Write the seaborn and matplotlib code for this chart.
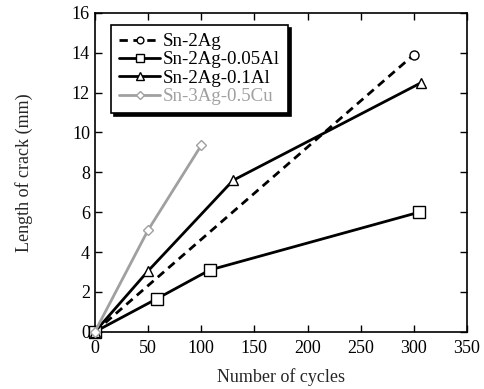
import matplotlib
matplotlib.use('agg')
import matplotlib.pyplot as plt
import seaborn as sns
import pandas as pd

# data
series_names = ['Sn-2Ag', 'Sn-2Ag-0.05Al', 'Sn-2Ag-0.1Al', 'Sn-3Ag-0.5Cu']
cycles_2ag = [0, 300]
crack_2ag = [0, 13.9]
cycles_005al = [0, 58, 108, 305]
crack_005al = [0, 1.65, 3.1, 6.0]
cycles_01al = [0, 50, 130, 307]
crack_01al = [0, 3.05, 7.6, 12.5]
cycles_cu = [0, 50, 100]
crack_cu = [0, 5.1, 9.35]

x_ticks = [0, 50, 100, 150, 200, 250, 300, 350]
y_ticks = [0, 2, 4, 6, 8, 10, 12, 14, 16]

sns.set_style('ticks')
plt.rcParams['font.family'] = ['Liberation Serif', 'DejaVu Serif']

fig = plt.figure(figsize=(4.84, 3.89), dpi=100)
ax = fig.add_axes([0.196, 0.147, 0.769, 0.82])

styles = [
    (cycles_2ag, crack_2ag, 'black', (0, (3, 2)), 'o', 6.5),
    (cycles_005al, crack_005al, 'black', '-', 's', 8),
    (cycles_01al, crack_01al, 'black', '-', '^', 7),
    (cycles_cu, crack_cu, '#a0a0a0', '-', 'D', 5.5),
]
for name, (xs, ys, col, ls, mk, ms) in zip(series_names, styles):
    df = pd.DataFrame({'cycles': xs, 'crack': ys})
    sns.lineplot(data=df, x='cycles', y='crack', ax=ax, color=col,
                 linestyle=ls, linewidth=2, marker=mk, markersize=ms,
                 markerfacecolor='white', markeredgecolor=col,
                 markeredgewidth=1, label=name, clip_on=False, zorder=3)

ax.set_xlim(0, 350)
ax.set_ylim(0, 16)
ax.set_xticks(x_ticks)
ax.set_yticks(y_ticks)
ax.tick_params(direction='in', top=True, right=True, length=5,
               width=1, labelsize=13, colors='black')
ax.tick_params(axis='x', pad=6)
for sp in ax.spines.values():
    sp.set_linewidth(1.2)
    sp.set_color('black')

ax.set_xlabel('Number of cycles', fontsize=13, labelpad=8)
ax.set_ylabel('Length of crack (mm)', fontsize=13, labelpad=28)

leg = ax.legend(loc='upper left', bbox_to_anchor=(0.043, 0.962),
                fontsize=13.6, frameon=True, fancybox=False,
                shadow={'color': 'black', 'alpha': 1},
                handlelength=2.2, handletextpad=0.15, labelspacing=0.06,
                borderpad=0.42, borderaxespad=0, markerscale=0.75)
leg.get_frame().set_edgecolor('black')
leg.get_frame().set_linewidth(1.2)
leg.get_frame().set_alpha(1)
for txt, col in zip(leg.get_texts(), ['black', 'black', 'black', '#a0a0a0']):
    txt.set_color(col)

fig.savefig('out.png', dpi=100)
